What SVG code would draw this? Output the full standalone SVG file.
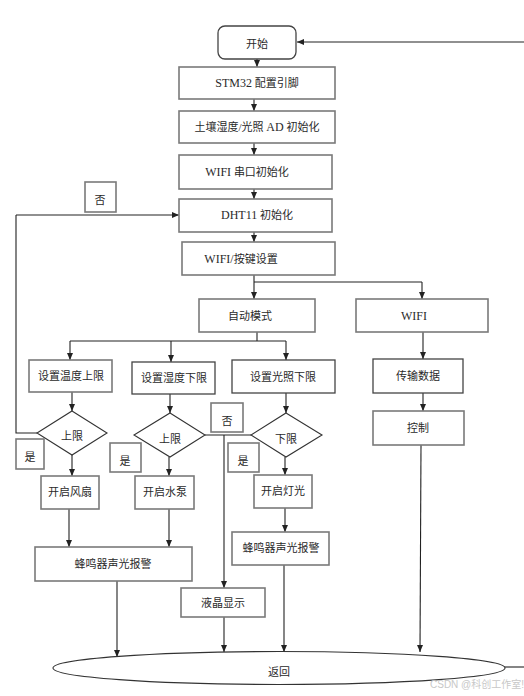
<svg xmlns="http://www.w3.org/2000/svg" width="524" height="696" viewBox="0 0 524 696">
<defs>
<marker id="ah" markerWidth="7" markerHeight="6" refX="7" refY="3" orient="auto" markerUnits="userSpaceOnUse">
<path d="M0,0 L7,3 L0,6 Z" fill="#222"/>
</marker>
<style>
.box{fill:#fff;stroke:#7a7a7a;stroke-width:1.6}
.dbox{fill:#fff;stroke:#444;stroke-width:1.3}
.dia{fill:#fff;stroke:#333;stroke-width:1.1}
.t{font-family:"Liberation Serif","Noto Sans CJK SC",serif;font-size:11px;fill:#2a2a2a;text-anchor:middle;dominant-baseline:middle}
.l{font-size:12px}
.c line,.c polyline{stroke:#222;stroke-width:1.1;fill:none}
.a{marker-end:url(#ah)}
.wm{font-family:"Liberation Sans","Noto Sans CJK SC",sans-serif;font-size:10px;fill:#c8c8c8}
</style>
</defs>
<rect width="524" height="696" fill="#fff"/>

<g class="c">
<line class="a" x1="524" y1="42" x2="297" y2="42"/>
<line class="a" x1="257" y1="59" x2="257" y2="67"/>
<line class="a" x1="254" y1="99" x2="254" y2="111"/>
<line class="a" x1="254" y1="143" x2="254" y2="155"/>
<line class="a" x1="254" y1="189" x2="254" y2="199"/>
<line class="a" x1="254" y1="232" x2="254" y2="242"/>
<polyline points="37,433 16,433 16,215"/>
<line class="a" x1="16" y1="215" x2="179" y2="215"/>
<line x1="254" y1="275" x2="254" y2="282"/>
<line x1="254" y1="282" x2="422" y2="282"/>
<line class="a" x1="254" y1="282" x2="254" y2="299"/>
<line class="a" x1="422" y1="282" x2="422" y2="299"/>
<line x1="257" y1="332" x2="257" y2="341"/>
<line x1="70" y1="341" x2="286" y2="341"/>
<line class="a" x1="70" y1="341" x2="70" y2="360"/>
<line class="a" x1="171" y1="341" x2="171" y2="362"/>
<line class="a" x1="286" y1="341" x2="286" y2="360"/>
<line class="a" x1="423" y1="332" x2="423" y2="359"/>
<line class="a" x1="423" y1="393" x2="423" y2="411"/>
<line class="a" x1="72" y1="392" x2="72" y2="411"/>
<line class="a" x1="170" y1="394" x2="170" y2="413"/>
<line class="a" x1="286" y1="393" x2="286" y2="413"/>
<line class="a" x1="72" y1="455" x2="72" y2="476"/>
<line class="a" x1="169" y1="457" x2="169" y2="476"/>
<line class="a" x1="285" y1="457" x2="285" y2="475"/>
<line x1="205" y1="435" x2="251" y2="435"/>
<line class="a" x1="224" y1="435" x2="224" y2="588"/>
<line class="a" x1="69" y1="509" x2="69" y2="547"/>
<line class="a" x1="169" y1="509" x2="169" y2="547"/>
<line class="a" x1="285" y1="508" x2="285" y2="532"/>
<line class="a" x1="117" y1="581" x2="117" y2="657"/>
<line class="a" x1="224" y1="617" x2="224" y2="652"/>
<line class="a" x1="284" y1="565" x2="284" y2="652"/>
<line class="a" x1="421" y1="445" x2="420" y2="652"/>
<line x1="504" y1="667" x2="524" y2="667"/>
</g>

<g id="start"><rect class="dbox" x="218" y="26" width="78" height="33" rx="7"/><text class="t" x="257" y="45">开始</text></g>
<g id="stm32"><rect class="box" x="179" y="67" width="156" height="32"/><text class="t" x="257" y="84"><tspan class="l">STM32</tspan> 配置引脚</text></g>
<g id="adinit"><rect class="box" x="179" y="111" width="156" height="32"/><text class="t" x="257" y="128">土壤湿度/光照 <tspan class="l">AD</tspan> 初始化</text></g>
<g id="wifiuart"><rect class="box" x="179" y="155" width="153" height="34"/><text class="t" x="247" y="173"><tspan class="l">WIFI</tspan> 串口初始化</text></g>
<g id="dht11"><rect class="box" x="179" y="199" width="153" height="33"/><text class="t" x="257" y="216"><tspan class="l">DHT11</tspan> 初始化</text></g>
<g id="no1"><rect class="box" x="85" y="182" width="31" height="30"/><text class="t" x="100" y="201">否</text></g>
<g id="wifikey"><rect class="box" x="182" y="242" width="153" height="33"/><text class="t" x="241" y="260"><tspan class="l">WIFI/</tspan>按键设置</text></g>
<g id="auto"><rect class="box" x="199" y="299" width="116" height="33"/><text class="t" x="250" y="317">自动模式</text></g>
<g id="wifi"><rect class="box" x="356" y="299" width="132" height="33"/><text class="t l" x="414" y="317">WIFI</text></g>

<g id="settemp"><rect class="box" x="29" y="360" width="83" height="32"/><text class="t" x="71" y="377">设置温度上限</text></g>
<g id="sethum"><rect class="dbox" x="132" y="362" width="83" height="32"/><text class="t" x="174" y="379">设置湿度下限</text></g>
<g id="setlight"><rect class="dbox" x="232" y="360" width="103" height="33"/><text class="t" x="283" y="378">设置光照下限</text></g>
<g id="transfer"><rect class="dbox" x="373" y="359" width="90" height="34"/><text class="t" x="418" y="377">传输数据</text></g>
<g id="control"><rect class="box" x="373" y="411" width="91" height="34"/><text class="t" x="418" y="429">控制</text></g>

<g id="d1"><polygon class="dia" points="72,411 107,433 72,455 37,433"/><text class="t" x="72" y="437">上限</text></g>
<g id="d2"><polygon class="dia" points="170,413 205,435 170,457 134,435"/><text class="t" x="170" y="440">上限</text></g>
<g id="d3"><polygon class="dia" points="286,413 322,435 286,457 251,435"/><text class="t" x="286" y="440">下限</text></g>

<g id="yes1"><rect class="box" x="16" y="439" width="28" height="30"/><text class="t" x="30" y="458">是</text></g>
<g id="yes2"><rect class="box" x="110" y="443" width="31" height="29"/><text class="t" x="125" y="462">是</text></g>
<g id="no2"><rect class="box" x="211" y="403" width="32" height="29"/><text class="t" x="227" y="422">否</text></g>
<g id="yes3"><rect class="box" x="228" y="443" width="31" height="29"/><text class="t" x="243" y="462">是</text></g>

<g id="fan"><rect class="box" x="41" y="476" width="58" height="33"/><text class="t" x="70" y="493">开启风扇</text></g>
<g id="pump"><rect class="box" x="135" y="476" width="59" height="33"/><text class="t" x="165" y="493">开启水泵</text></g>
<g id="lamp"><rect class="box" x="254" y="475" width="58" height="33"/><text class="t" x="283" y="492">开启灯光</text></g>
<g id="alarm1"><rect class="box" x="35" y="547" width="157" height="34"/><text class="t" x="113" y="565">蜂鸣器声光报警</text></g>
<g id="alarm2"><rect class="box" x="232" y="532" width="97" height="33"/><text class="t" x="281" y="549">蜂鸣器声光报警</text></g>
<g id="lcd"><rect class="box" x="181" y="588" width="84" height="29"/><text class="t" x="223" y="604">液晶显示</text></g>
<g id="return"><ellipse cx="279" cy="668" rx="226" ry="16.5" fill="#fff" stroke="#333" stroke-width="1.1"/><text class="t" x="279" y="673">返回</text></g>
<text class="wm" x="430" y="688">CSDN @科创工作室!</text>
</svg>
